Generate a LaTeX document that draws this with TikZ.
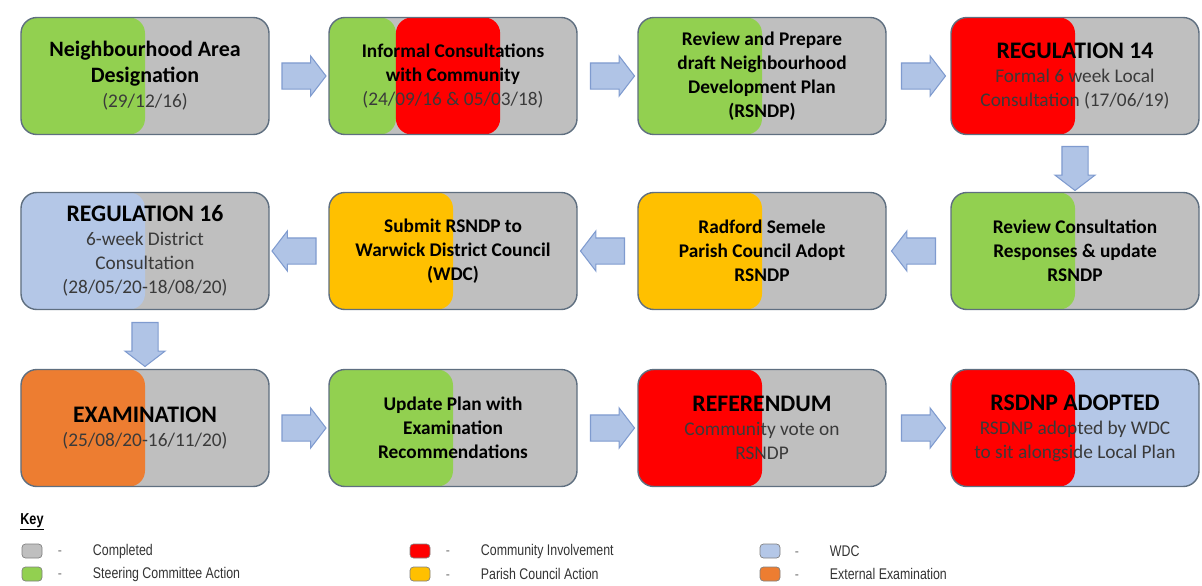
\documentclass[tikz,border=0pt]{standalone}
\usepackage{fontspec}
\setmainfont{Carlito}
\newfontfamily\keyfont[FakeStretch=0.8]{Liberation Sans}
\usepackage{tikz}
\usetikzlibrary{calc,shapes.arrows}
\definecolor{done}{HTML}{BFBFBF}
\definecolor{steer}{HTML}{92D050}
\definecolor{comm}{HTML}{FF0000}
\definecolor{wdc}{HTML}{B4C7E7}
\definecolor{parish}{HTML}{FFC000}
\definecolor{exam}{HTML}{ED7D31}
\definecolor{edge}{HTML}{5F6F80}
\definecolor{flowfill}{HTML}{B0C4E6}
\definecolor{flowedge}{HTML}{7F9BCF}
\definecolor{subtxt}{HTML}{3A3A3A}
\tikzset{
	stage/.style={draw=edge,line width=0.8pt,rounded corners=9pt,fill=done,minimum width=4.96cm,minimum height=2.34cm,align=center,font=\bfseries\fontsize{11}{13.6}\selectfont},
	half/.style={path picture={\fill[#1](path picture bounding box.south west) rectangle (path picture bounding box.north);}},
	split3/.style={path picture={
		\fill[steer](path picture bounding box.south west) rectangle ($(path picture bounding box.north west)!0.27!(path picture bounding box.north east)$);
		\fill[comm]($(path picture bounding box.south west)!0.27!(path picture bounding box.south east)$) rectangle ($(path picture bounding box.north west)!0.69!(path picture bounding box.north east)$);}},
	flow/.style={single arrow,draw=flowedge,fill=flowfill,line width=0.6pt,minimum height=0.88cm,minimum width=0cm,text width=0pt,text height=0pt,text depth=0pt,inner sep=0.25cm,single arrow head extend=0.14cm,single arrow tip angle=105},
	swatch/.style={draw=gray,rounded corners=2pt,minimum width=0.4cm,minimum height=0.28cm,inner sep=0pt},
}
\newcommand{\subline}[1]{{\mdseries\color{subtxt}#1}}
\newcommand{\caps}[1]{{\fontsize{13.5}{15}\selectfont #1}}
\begin{document}
\begin{tikzpicture}
		\useasboundingbox (0,0) rectangle (24.04,-11.72);
		\node[stage,half=steer,font=\bfseries\fontsize{12.5}{14.5}\selectfont](1)at(2.9,-1.52) {Neighbourhood Area\\Designation\\\subline{\fontsize{11}{14.5}\selectfont(29/12/16)}};
		\node[stage,split3](2)at(9.06,-1.52) {Informal Consultations\\with Community\\\subline{(24/09/16 \& 05/03/18)}};
		\node[stage,half=steer](3)at(15.24,-1.52) {Review and Prepare\\draft Neighbourhood\\Development Plan\\(RSNDP)};
		\node[stage,half=comm](4)at(21.5,-1.52) {\caps{REGULATION 14}\\\subline{Formal 6 week Local}\\\subline{Consultation (17/06/19)}};
		
		\node[stage,half=wdc](5)at(2.9,-5.02) {\caps{REGULATION 16}\\\subline{6-week District}\\\subline{Consultation}\\\subline{(28/05/20-18/08/20)}};
		\node[stage,half=parish](6)at(9.06,-5.02) {Submit RSNDP to\\Warwick District Council\\(WDC)};
		\node[stage,half=parish](7)at(15.24,-5.02) {Radford Semele\\Parish Council Adopt\\RSNDP};
		\node[stage,half=steer](8)at(21.5,-5.02) {Review Consultation\\Responses \& update\\RSNDP};
		
		\node[stage,half=exam](9)at(2.9,-8.56) {\caps{EXAMINATION}\\\subline{(25/08/20-16/11/20)}};
		\node[stage,half=steer](10)at(9.06,-8.56) {Update Plan with\\Examination\\Recommendations};
		\node[stage,half=comm](11)at(15.24,-8.56) {\caps{REFERENDUM}\\\subline{Community vote on}\\\subline{RSNDP}};
		\node[stage,half=comm,fill=wdc](12)at(21.5,-8.56) {\caps{RSDNP ADOPTED}\\\subline{RSDNP adopted by WDC}\\\subline{to sit alongside Local Plan}};
		
		\node[flow] at ($(1.east)!0.5!(2.west)$) {};
		\node[flow] at ($(2.east)!0.5!(3.west)$) {};
		\node[flow] at ($(3.east)!0.5!(4.west)$) {};
		\node[flow,shape border rotate=270] at ($(4.south)!0.5!(8.north)$) {};
		\node[flow,shape border rotate=180] at ($(8.west)!0.5!(7.east)$) {};
		\node[flow,shape border rotate=180] at ($(7.west)!0.5!(6.east)$) {};
		\node[flow,shape border rotate=180] at ($(6.west)!0.5!(5.east)$) {};
		\node[flow,shape border rotate=270] at ($(5.south)!0.5!(9.north)$) {};
		\node[flow] at ($(9.east)!0.5!(10.west)$) {};
		\node[flow] at ($(10.east)!0.5!(11.west)$) {};
		\node[flow] at ($(11.east)!0.5!(12.west)$) {};
		
		\node[anchor=west,inner sep=0pt,font=\keyfont\bfseries\fontsize{9}{10}\selectfont](key)at(0.4,-10.44) {\underline{Key}};
		\node[swatch,fill=done](k1)at(0.64,-11.02) {};
		\node[swatch,fill=steer](k2)at(0.64,-11.48) {};
		\node[swatch,fill=comm](k3)at(8.4,-11.02) {};
		\node[swatch,fill=parish](k4)at(8.4,-11.48) {};
		\node[swatch,fill=wdc](k5)at(15.4,-11.02) {};
		\node[swatch,fill=exam](k6)at(15.4,-11.48) {};
		\foreach \x/\k/\t in {1.15/1/Completed,1.15/2/Steering Committee Action,8.91/3/Community Involvement,8.91/4/Parish Council Action,15.89/5/WDC,15.89/6/External Examination}
			\node[anchor=west,inner sep=0pt,font=\keyfont\fontsize{8.8}{10}\selectfont,text=black!80](t\k)at(k\k.center -| \x,0) {\textcolor{gray}{-}\hspace{0.62cm}\t};
\end{tikzpicture}
\end{document}
